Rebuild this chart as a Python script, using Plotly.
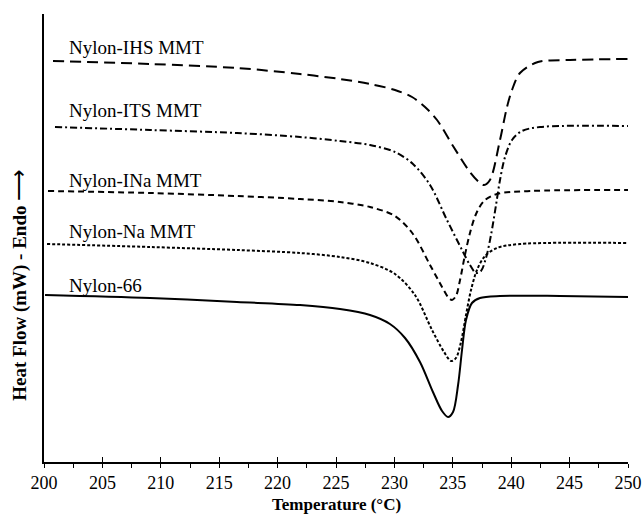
import plotly.graph_objects as go

# Temperature (°C) and heat flow (arbitrary mW offsets)
t_ihs = [200.77, 209.08, 216.52, 221.92, 225.34, 227.91, 230.05, 231.51, 232.62, 233.65, 235.02, 236.47, 237.24, 237.67, 238.18, 239.04, 239.64, 240.07, 240.75, 242.29, 245.03, 250.0]
hf_ihs = [38.3, 38.0, 37.6, 37.0, 36.5, 36.0, 35.4, 34.7, 33.7, 32.4, 29.8, 27.2, 26.2, 25.9, 26.4, 30.4, 33.7, 35.4, 37.1, 38.2, 38.4, 38.5]

t_its = [200.94, 209.08, 216.52, 221.92, 225.34, 227.91, 230.05, 231.59, 233.05, 234.5, 235.79, 236.47, 236.99, 237.41, 237.84, 238.27, 238.7, 239.04, 239.47, 240.07, 240.92, 242.47, 250.0]
hf_its = [31.7, 31.4, 31.1, 30.7, 30.3, 29.9, 29.2, 28.0, 25.9, 22.4, 19.4, 17.9, 17.1, 17.3, 18.6, 20.9, 23.9, 26.4, 28.7, 30.4, 31.3, 31.7, 31.8]

t_ina = [200.34, 209.08, 216.52, 221.92, 225.34, 227.91, 230.05, 231.59, 233.05, 234.08, 234.59, 234.93, 235.27, 235.62, 236.04, 236.47, 236.99, 237.67, 238.78, 241.61, 250.0]
hf_ina = [25.3, 25.1, 24.8, 24.5, 24.2, 23.7, 22.8, 21.0, 17.9, 15.7, 14.7, 14.4, 14.8, 16.4, 18.9, 21.1, 23.0, 24.3, 25.0, 25.3, 25.4]

t_na = [200.26, 209.08, 216.52, 221.92, 225.34, 227.91, 230.05, 231.76, 233.22, 234.25, 234.85, 235.27, 235.7, 236.13, 236.56, 237.07, 237.76, 238.78, 240.75, 250.0]
hf_na = [20.0, 19.7, 19.4, 19.1, 18.7, 18.1, 17.0, 14.9, 11.4, 9.2, 8.3, 8.6, 10.2, 12.9, 15.4, 17.4, 18.8, 19.6, 20.0, 20.1]

t_66 = [200.09, 209.08, 216.52, 221.92, 225.34, 227.91, 229.62, 230.91, 232.19, 233.3, 234.08, 234.59, 235.02, 235.45, 235.79, 236.13, 236.64, 237.33, 239.04, 244.18, 250.0]
hf_66 = [14.9, 14.6, 14.2, 13.9, 13.5, 12.9, 12.0, 10.6, 8.2, 5.2, 3.3, 2.7, 3.2, 5.9, 9.4, 12.4, 14.1, 14.6, 14.8, 14.8, 14.7]

series_names = ["Nylon-IHS MMT", "Nylon-ITS MMT", "Nylon-INa MMT", "Nylon-Na MMT", "Nylon-66"]
label_y = [39.7, 33.4, 26.4, 21.3, 15.9]
tick_vals = [200, 205, 210, 215, 220, 225, 230, 235, 240, 245, 250]

series = [
    (t_ihs, hf_ihs, "11px,6px"),
    (t_its, hf_its, "7px,3px,2px,3px"),
    (t_ina, hf_ina, "6px,4px"),
    (t_na, hf_na, "3px,2px"),
    (t_66, hf_66, "solid"),
]

FONT = "Liberation Serif"
fig = go.Figure()
for (t, hf, dash), name in zip(series, series_names):
    fig.add_trace(go.Scatter(x=t, y=hf, mode="lines", name=name,
                             line=dict(color="black", width=2, dash=dash,
                                       shape="spline", smoothing=0.9),
                             showlegend=False, hoverinfo="skip"))

# helper trace for the inner half of the crossing tick marks
fig.add_trace(go.Scatter(x=tick_vals, y=[None] * len(tick_vals), xaxis="x2",
                         mode="lines", showlegend=False, hoverinfo="skip"))

for name, yv in zip(series_names, label_y):
    fig.add_annotation(x=202.0, y=yv, text=name, showarrow=False,
                       xanchor="left", yanchor="middle",
                       font=dict(family=FONT, size=19, color="black"))

fig.add_annotation(x=-0.045, y=0.395, xref="paper", yref="paper",
                   text="<b>Heat Flow (mW) - Endo</b> <span style='font-size:22px'>⟶</span>",
                   textangle=-90,
                   showarrow=False, xanchor="center", yanchor="middle",
                   font=dict(family=FONT, size=19, color="black"))

fig.add_annotation(x=0.5, y=-0.1183, xref="paper", yref="paper",
                   text="<b>Temperature (°C)</b>", showarrow=False,
                   xanchor="center", yanchor="bottom", borderpad=0,
                   font=dict(family=FONT, size=17, color="black"))

fig.update_layout(
    width=643, height=515,
    margin=dict(l=44, r=15, t=14, b=53),
    paper_bgcolor="white", plot_bgcolor="white",
    xaxis=dict(range=[200, 250], tickvals=tick_vals, ticks="outside",
               ticklen=4, tickwidth=1.2, tickcolor="black", automargin=False,
               showline=True, linecolor="black", linewidth=1.5,
               showgrid=False, zeroline=False,
               minor=dict(dtick=2.5, tick0=200, ticks="outside", ticklen=4,
                          tickcolor="black", tickwidth=1.2),
               tickfont=dict(family=FONT, size=18, color="black")),
    xaxis2=dict(range=[200, 250], overlaying="x", tickvals=tick_vals,
                ticks="inside", ticklen=5, tickwidth=1.2, tickcolor="black",
                showticklabels=False, showgrid=False, zeroline=False,
                side="bottom", anchor="y", automargin=False),
    yaxis=dict(range=[-1.8, 43], showline=True, linecolor="black", linewidth=1.5,
               showticklabels=False, ticks="", showgrid=False, zeroline=False,
               automargin=False),
)

fig.write_html("out.html")
